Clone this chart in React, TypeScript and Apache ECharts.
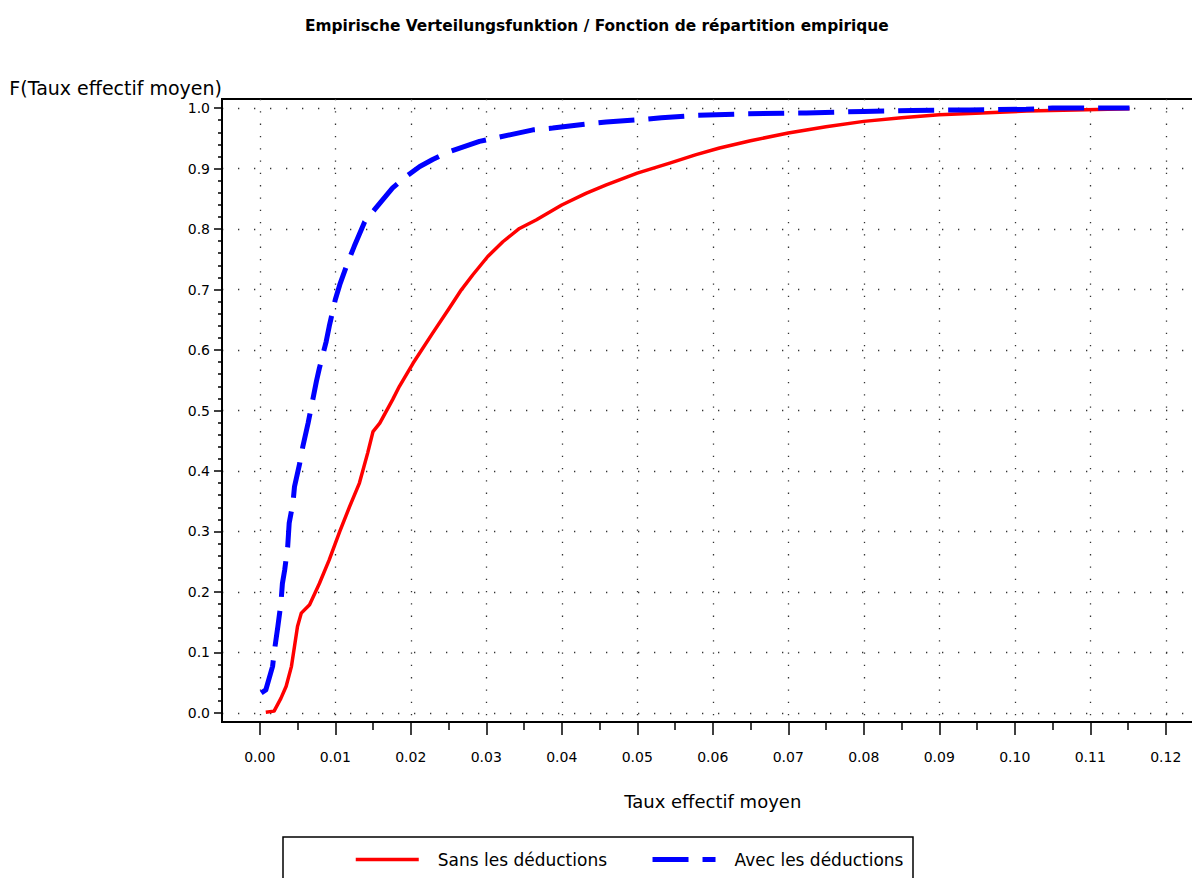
import React, { useEffect, useRef } from "react";
import * as echarts from "echarts";

const titleText = "Empirische Verteilungsfunktion / Fonction de répartition empirique";
const xAxisName = "Taux effectif moyen";
const yAxisName = "F(Taux effectif moyen)";
const seriesNames = ["Sans les déductions", "Avec les déductions"];

const xTickValues = [0, 0.01, 0.02, 0.03, 0.04, 0.05, 0.06, 0.07, 0.08, 0.09, 0.1, 0.11, 0.12];
const xMinorTickValues = [0.005, 0.015, 0.025, 0.035, 0.045, 0.055, 0.065, 0.075, 0.085, 0.095, 0.105, 0.115];
const yTickValues = [0, 0.1, 0.2, 0.3, 0.4, 0.5, 0.6, 0.7, 0.8, 0.9, 1.0];
const yMinorTickValues = [
  0.02, 0.04, 0.06, 0.08, 0.12, 0.14, 0.16, 0.18, 0.22, 0.24, 0.26, 0.28,
  0.32, 0.34, 0.36, 0.38, 0.42, 0.44, 0.46, 0.48, 0.52, 0.54, 0.56, 0.58,
  0.62, 0.64, 0.66, 0.68, 0.72, 0.74, 0.76, 0.78, 0.82, 0.84, 0.86, 0.88,
  0.92, 0.94, 0.96, 0.98,
];

// Sans les déductions (red, solid)
const sansX = [
  0.0008, 0.0019, 0.0028, 0.0035, 0.0042, 0.0046, 0.005, 0.0055, 0.0066, 0.0079,
  0.0092, 0.0106, 0.0119, 0.0132, 0.0143, 0.015, 0.0159, 0.0176, 0.0185, 0.0203,
  0.0229, 0.0251, 0.0267, 0.0282, 0.0302, 0.0322, 0.0344, 0.0366, 0.04, 0.0432,
  0.0459, 0.05, 0.0543, 0.0578, 0.0609, 0.065, 0.07, 0.075, 0.08, 0.085,
  0.09, 0.0956, 0.1016, 0.108, 0.1152,
];
const sansY = [
  0.001, 0.003, 0.024, 0.044, 0.077, 0.11, 0.143, 0.165, 0.179, 0.214,
  0.253, 0.3, 0.341, 0.38, 0.43, 0.465, 0.479, 0.518, 0.54, 0.578,
  0.628, 0.669, 0.6995, 0.724, 0.7546, 0.779, 0.801, 0.815, 0.8397, 0.859,
  0.873, 0.8925, 0.909, 0.923, 0.934, 0.946, 0.9587, 0.969, 0.978, 0.984,
  0.989, 0.992, 0.995, 0.997, 0.999,
];

// Avec les déductions (blue, dashed)
const avecX = [
  0.0002, 0.0008, 0.0017, 0.0019, 0.0024, 0.0028, 0.003, 0.0033, 0.0037, 0.0039,
  0.0044, 0.0046, 0.0053, 0.0057, 0.0064, 0.0068, 0.0075, 0.0079, 0.0088, 0.0092,
  0.01, 0.0106, 0.0117, 0.0125, 0.0139, 0.0152, 0.0176, 0.0194, 0.0212, 0.0229,
  0.0251, 0.0291, 0.0317, 0.0362, 0.0388, 0.0434, 0.0459, 0.0507, 0.0532, 0.058,
  0.0644, 0.0724, 0.08, 0.0864, 0.094, 0.1015, 0.105, 0.1152,
];
const avecY = [
  0.033, 0.038, 0.077, 0.099, 0.143, 0.181, 0.214, 0.236, 0.275, 0.314,
  0.347, 0.374, 0.413, 0.44, 0.479, 0.504, 0.548, 0.57, 0.614, 0.639,
  0.683, 0.708, 0.746, 0.771, 0.812, 0.832, 0.868, 0.887, 0.9035, 0.915,
  0.928, 0.945, 0.952, 0.964, 0.967, 0.974, 0.977, 0.981, 0.984, 0.988,
  0.9905, 0.992, 0.9945, 0.996, 0.997, 0.998, 1.0, 1.0,
];

const FONT = "DejaVu Sans";

export default function App() {
  const ref = useRef<HTMLDivElement>(null);

  useEffect(() => {
    if (!ref.current) return;
    const chart = echarts.init(ref.current, undefined, { renderer: "svg" });

    const xCommon = {
      type: "value",
      min: -0.005,
      max: 0.125,
      splitNumber: 13,
      position: "bottom",
      offset: 0,
    };
    const yCommon = {
      type: "value",
      min: -0.015,
      max: 1.015,
      splitNumber: 10,
      position: "left",
      offset: 0,
    };

    const option: any = {
      animation: false,
      backgroundColor: "#fff",
      title: {
        text: titleText,
        left: 305,
        top: 18,
        padding: 0,
        textStyle: { fontFamily: FONT, fontWeight: "bold", fontSize: 15.4, color: "#000" },
      },
      legend: {
        left: 354,
        top: 851,
        padding: 0,
        itemWidth: 63,
        itemHeight: 14,
        itemGap: 43,
        data: seriesNames,
        itemStyle: { opacity: 0 },
        lineStyle: { width: "inherit" },
        textStyle: { fontFamily: FONT, fontSize: 17, color: "#000", padding: [0, 0, 0, 14] },
      },
      grid: {
        left: 222,
        top: 99,
        width: 981.5,
        height: 623,
        show: true,
        borderColor: "#000",
        borderWidth: 2,
        backgroundColor: "transparent",
      },
      xAxis: [
        {
          ...xCommon,
          name: xAxisName,
          nameLocation: "middle",
          nameGap: 70,
          nameTextStyle: { fontFamily: FONT, fontSize: 18, color: "#000" },
          axisLine: { show: true, onZero: false, lineStyle: { color: "#000", width: 2 } },
          axisTick: { show: true, length: 13, lineStyle: { color: "#000", width: 1.5 }, customValues: xTickValues },
          axisLabel: {
            show: true,
            margin: 28,
            customValues: xTickValues,
            fontFamily: FONT,
            fontSize: 14,
            color: "#000",
            formatter: (v: number) => v.toFixed(2),
          },
          splitLine: { show: true, lineStyle: { color: "#333", width: 1.3, type: [1.3, 11] } },
        },
        {
          ...xCommon,
          axisLine: { show: false, onZero: false },
          axisTick: { show: true, length: 8, lineStyle: { color: "#000", width: 1.5 }, customValues: xMinorTickValues },
          axisLabel: { show: false },
          splitLine: { show: false },
        },
      ],
      yAxis: [
        {
          ...yCommon,
          name: yAxisName,
          nameLocation: "end",
          nameGap: 2,
          nameTextStyle: { fontFamily: FONT, fontSize: 19, color: "#000", align: "right", verticalAlign: "bottom" },
          axisLine: { show: true, onZero: false, lineStyle: { color: "#000", width: 2 } },
          axisTick: { show: true, length: 8, lineStyle: { color: "#000", width: 1.5 }, customValues: yTickValues },
          axisLabel: {
            show: true,
            margin: 12,
            customValues: yTickValues,
            fontFamily: FONT,
            fontSize: 14,
            color: "#000",
            formatter: (v: number) => v.toFixed(1),
          },
          splitLine: { show: true, lineStyle: { color: "#333", width: 1.3, type: [1.3, 14.7] } },
        },
        {
          ...yCommon,
          axisLine: { show: false, onZero: false },
          axisTick: { show: true, length: 4, lineStyle: { color: "#000", width: 1.5 }, customValues: yMinorTickValues },
          axisLabel: { show: false },
          splitLine: { show: false },
        },
      ],
      series: [
        {
          name: seriesNames[0],
          type: "line",
          xAxisIndex: 0,
          yAxisIndex: 0,
          symbol: "none",
          showSymbol: false,
          smooth: false,
          data: sansX.map((x, i) => [x, sansY[i]]),
          lineStyle: { color: "#ff0000", width: 3.5, type: "solid", join: "round" },
          itemStyle: { color: "#ff0000" },
          z: 3,
        },
        {
          name: seriesNames[1],
          type: "line",
          xAxisIndex: 0,
          yAxisIndex: 0,
          symbol: "none",
          showSymbol: false,
          smooth: false,
          data: avecX.map((x, i) => [x, avecY[i]]),
          lineStyle: { color: "#0000ff", width: 5, type: [36, 14], join: "round" },
          itemStyle: { color: "#0000ff" },
          z: 4,
        },
      ],
      graphic: [
        {
          type: "rect",
          silent: true,
          z: 10,
          shape: { x: 283, y: 837, width: 630, height: 80 },
          style: { fill: "none", stroke: "#000", lineWidth: 1.5 },
        },
      ],
    };

    chart.setOption(option);
    return () => {
      chart.dispose();
    };
  }, []);

  return (
    <div
      style={{
        position: "absolute",
        left: 0,
        top: 0,
        width: 1192,
        height: 878,
        overflow: "hidden",
        background: "#fff",
      }}
    >
      <div ref={ref} style={{ width: 1210, height: 878 }} />
    </div>
  );
}
